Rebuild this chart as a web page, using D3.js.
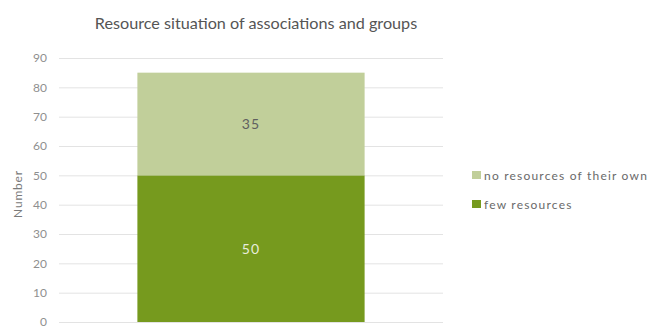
<!DOCTYPE html>
<html>
<head>
<meta charset="utf-8">
<script src="https://cdn.jsdelivr.net/npm/d3@7"></script>
<style>
  html, body { margin: 0; padding: 0; background: #fff; }
  svg { display: block; font-family: Lato, "Open Sans", sans-serif; }
</style>
</head>
<body>
<svg id="chart" width="654" height="331"></svg>
<script>
// Stacked column: resource situation of associations and groups
const categories = ["Associations and groups"];
const seriesNames = ["few resources", "no resources of their own"];
const fewResources = [50];
const noOwnResources = [35];
const yTicks = [0, 10, 20, 30, 40, 50, 60, 70, 80, 90];
const seriesColors = ["#769a1e", "#c1cf9a"];
const labelColors = ["#e8eddc", "#5f5f5f"];

const svg = d3.select("#chart");
const margin = { left: 59, right: 211, top: 58, bottom: 9 };
const width = 654, height = 331;

const x = d3.scaleBand()
  .domain(categories)
  .range([margin.left, width - margin.right])
  .paddingInner(0.4)
  .paddingOuter(0.207);

const y = d3.scaleLinear()
  .domain([0, 90])
  .range([height - margin.bottom, margin.top]);

// Title
svg.append("text")
  .attr("x", 256)
  .attr("y", 29)
  .attr("text-anchor", "middle")
  .attr("font-size", 16.2)
  .attr("fill", "#555")
  .text("Resource situation of associations and groups");

// Gridlines and tick labels
const yAxis = d3.axisLeft(y)
  .tickValues(yTicks)
  .tickSize(-(width - margin.right - margin.left))
  .tickPadding(12);

const gAxis = svg.append("g")
  .attr("transform", `translate(${margin.left},0)`)
  .call(yAxis);
gAxis.select(".domain").remove();
gAxis.selectAll(".tick line").attr("stroke", "#e3e3e3").attr("stroke-width", 1);
gAxis.selectAll(".tick text")
  .attr("fill", "#8f8f8f")
  .attr("font-size", 12)
  .attr("font-family", "Lato, sans-serif");

// Axis title
svg.append("text")
  .attr("transform", `translate(22,${(y(0) + y(90)) / 2 + 4}) rotate(-90)`)
  .attr("text-anchor", "middle")
  .attr("font-size", 12)
  .attr("letter-spacing", 0.8)
  .attr("fill", "#7a7a7a")
  .text("Number");

// Stack the two series
const rows = categories.map((c, i) => ({
  category: c,
  "few resources": fewResources[i],
  "no resources of their own": noOwnResources[i]
}));
const stacked = d3.stack().keys(seriesNames)(rows);

const layers = svg.append("g").selectAll("g")
  .data(stacked)
  .join("g")
  .attr("fill", (d, i) => seriesColors[i]);

layers.selectAll("rect")
  .data(d => d.map(v => ({ v, key: d.key })))
  .join("rect")
  .attr("x", d => x(d.v.data.category))
  .attr("width", x.bandwidth())
  .attr("y", d => y(d.v[1]))
  .attr("height", d => y(d.v[0]) - y(d.v[1]));

// Value labels
stacked.forEach((layer, i) => {
  layer.forEach(v => {
    svg.append("text")
      .attr("x", x(v.data.category) + x.bandwidth() / 2)
      .attr("y", (y(v[0]) + y(v[1])) / 2 + 5)
      .attr("text-anchor", "middle")
      .attr("font-size", 14)
      .attr("letter-spacing", 1.2)
      .attr("fill", labelColors[i])
      .text(v[1] - v[0]);
  });
});

// Legend (top entry is the upper segment)
const legendItems = seriesNames.map((n, i) => ({ name: n, color: seriesColors[i] })).reverse();
const legend = svg.append("g").attr("transform", "translate(472,171)");
legendItems.forEach((d, i) => {
  const g = legend.append("g").attr("transform", `translate(0,${i * 29})`);
  g.append("rect").attr("width", 9).attr("height", 8).attr("fill", d.color);
  g.append("text")
    .attr("x", 12)
    .attr("y", 8.5)
    .attr("font-size", 12)
    .attr("letter-spacing", 1.2)
    .attr("fill", "#6a6a6a")
    .text(d.name);
});
</script>
</body>
</html>
